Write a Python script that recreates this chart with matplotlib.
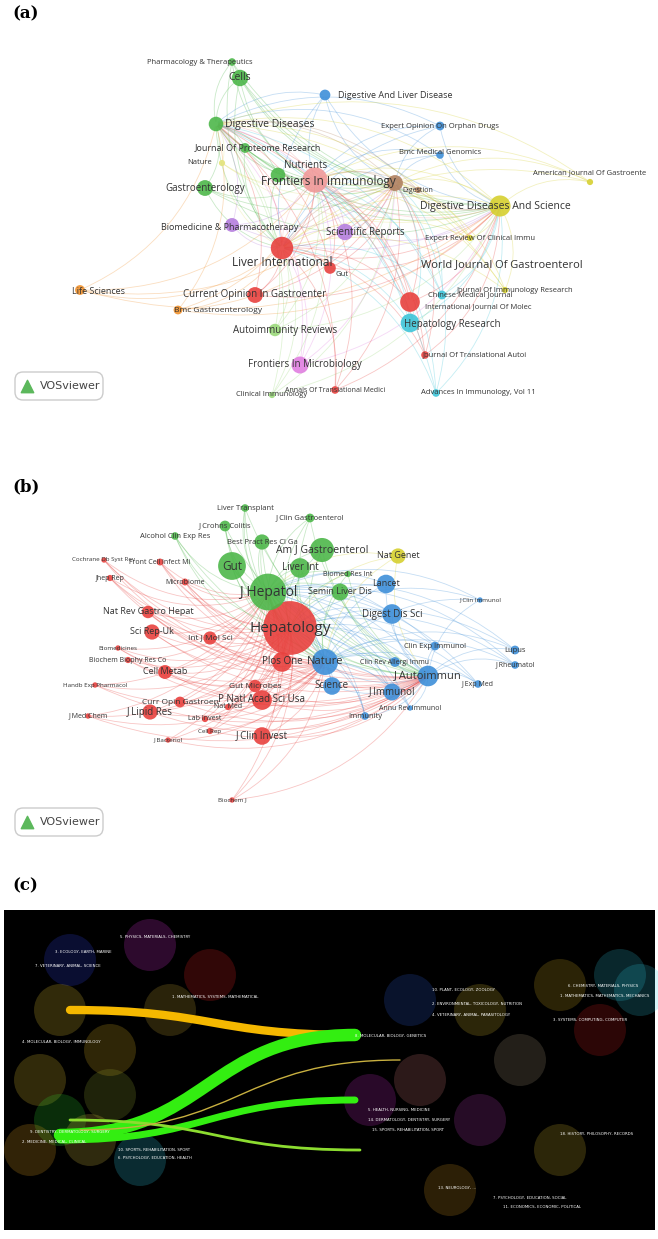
import matplotlib
matplotlib.use('Agg')
import matplotlib.pyplot as plt
from matplotlib.patches import FancyArrowPatch, FancyBboxPatch, Rectangle, PathPatch
from matplotlib.path import Path

W, H = 658, 1239

# ---- panel (a): journals ----
a_labels = ['Pharmacology & Therapeutics', 'Cells', 'Digestive Diseases', 'Journal Of Proteome Research',
            'Nature', 'Gastroenterology', 'Nutrients', 'Frontiers In Immunology',
            'Biomedicine & Pharmacotherapy', 'Liver International', 'Gut', 'Scientific Reports',
            'Current Opinion In Gastroenter', 'Life Sciences', 'Bmc Gastroenterology',
            'Autoimmunity Reviews', 'Frontiers In Microbiology', 'Clinical Immunology',
            'Annals Of Translational Medici', 'Digestive And Liver Disease',
            'Expert Opinion On Orphan Drugs', 'Bmc Medical Genomics', 'Digestion',
            'Digestive Diseases And Science', 'American Journal Of Gastroente',
            'World Journal Of Gastroenterol', 'Expert Review Of Clinical Immu',
            'Journal Of Immunology Research', 'Chinese Medical Journal',
            'International Journal Of Molec', 'Hepatology Research',
            'Journal Of Translational Autoi', 'Advances In Immunology, Vol 11']
a_x = [200, 240, 270, 258, 200, 205, 306, 328, 230, 282, 342, 365, 255, 98, 218, 285, 305, 272,
       335, 395, 440, 440, 418, 495, 590, 502, 480, 515, 470, 478, 452, 475, 478]
a_y = [62, 78, 124, 148, 163, 188, 166, 181, 228, 262, 274, 232, 295, 292, 310, 330, 365, 395,
       390, 95, 126, 152, 190, 206, 173, 265, 238, 290, 295, 307, 325, 355, 393]
a_node_x = [232, 240, 216, 245, 222, 205, 278, 315, 232, 282, 330, 345, 255, 80, 178, 275, 300, 272,
            335, 325, 440, 440, 418, 395, 590, 500, 470, 505, 442, 410, 410, 425, 436]
a_node_y = [62, 78, 124, 148, 163, 188, 175, 180, 225, 248, 268, 232, 295, 290, 310, 330, 365, 395,
            390, 95, 126, 155, 190, 183, 182, 206, 238, 290, 295, 302, 323, 355, 393]
a_size = [30, 140, 110, 50, 20, 130, 110, 330, 100, 260, 70, 140, 130, 50, 40, 80, 150, 20,
          30, 60, 40, 30, 20, 130, 20, 230, 20, 20, 40, 200, 180, 30, 30]
a_fs = [5.5, 7.5, 7.5, 6.5, 5.5, 7, 7, 8.5, 6.5, 8.5, 5.5, 7, 7, 6.5, 6, 7, 7, 5.5,
        5, 6.5, 5.5, 5.5, 5, 7.5, 5.5, 8, 5.5, 5.5, 5.5, 5.5, 7, 5.5, 5.5]
a_col = ['#4db74a', '#4db74a', '#4db74a', '#4db74a', '#e3e37a', '#4db74a', '#4db74a', '#f19a9a',
         '#b57ede', '#e8413e', '#e8413e', '#b57ede', '#e8413e', '#f0912d', '#f0912d',
         '#9ad97a', '#e07fe0', '#9ad97a', '#e8413e', '#3e8fd9', '#3e8fd9', '#3e8fd9',
         '#b08060', '#b08060', '#d6d02f', '#d6d02f', '#d6d02f', '#d6d02f', '#3ec5d9',
         '#e8413e', '#3ec5d9', '#e8413e', '#3ec5d9']
a_hubs = [7, 9, 25, 23, 2]

# ---- panel (b): co-cited journals ----
b_labels = ['Hepatology', 'J Hepatol', 'Gut', 'Am J Gastroenterol', 'Liver Int', 'Semin Liver Dis',
            'Lancet', 'Digest Dis Sci', 'Nature', 'Plos One', 'J Autoimmun', 'Science', 'J Immunol',
            'P Natl Acad Sci Usa', 'J Clin Invest', 'J Lipid Res', 'Cell Metab', 'Sci Rep-Uk',
            'Nat Rev Gastro Hepat', 'Int J Mol Sci', 'Nat Genet', 'Liver Transplant',
            'J Clin Gastroenterol', 'Alcohol Clin Exp Res', 'Best Pract Res Cl Ga', 'J Crohns Colitis',
            'Lupus', 'J Rheumatol', 'Clin Exp Immunol', 'Clin Rev Allergi Immu', 'Gut Microbes',
            'Curr Opin Gastroen', 'J Exp Med', 'Immunity', 'Biochem J', 'Jhep Rep',
            'Cochrane Db Syst Rev', 'Front Cell Infect Mi', 'Microbiome', 'Biomedicines',
            'Biochem Biophy Res Co', 'Handb Exp Pharmacol', 'J Med Chem', 'J Bacteriol', 'Cell Rep',
            'Lab Invest', 'Nat Med', 'Biomed Res Int', 'J Clin Immunol', 'Annu Rev Immunol']
b_x = [290, 268, 232, 322, 300, 340, 386, 392, 325, 282, 428, 332, 392, 262, 262, 150, 165, 152,
       148, 210, 398, 245, 310, 175, 262, 225, 515, 515, 435, 395, 255, 180, 478, 365, 232, 110,
       104, 160, 185, 118, 128, 95, 88, 168, 210, 205, 228, 348, 480, 410]
b_y = [628, 592, 566, 550, 568, 592, 584, 614, 662, 662, 676, 686, 692, 700, 736, 712, 672, 632,
       612, 638, 556, 508, 518, 536, 542, 526, 650, 665, 646, 662, 686, 702, 684, 716, 800, 578,
       560, 562, 582, 648, 660, 685, 716, 740, 731, 719, 707, 574, 600, 708]
b_size = [1500, 700, 400, 300, 200, 150, 180, 200, 350, 200, 220, 160, 150, 200, 160, 120, 100,
          120, 80, 90, 120, 30, 40, 30, 120, 60, 40, 30, 40, 50, 80, 60, 30, 30, 15, 20, 15, 25,
          25, 15, 20, 15, 15, 15, 20, 20, 20, 20, 15, 15]
b_fs = [11, 10, 8.5, 7.5, 7, 6.5, 6.5, 7, 8, 7, 8, 7, 7, 7, 7, 7, 6.5, 6.5, 6.5, 6, 6.5, 5.5,
        5.5, 5.5, 5.5, 5.5, 5.5, 5, 5.5, 5, 6, 6, 5, 5.5, 4.5, 5, 4.5, 5, 5, 4.5, 5, 4.5, 5,
        4.5, 4.5, 5, 5, 5, 4.5, 5]
b_col = ['#e8413e', '#4db74a', '#4db74a', '#4db74a', '#4db74a', '#4db74a', '#3e8fd9', '#3e8fd9',
         '#3e8fd9', '#e8413e', '#3e8fd9', '#3e8fd9', '#3e8fd9', '#e8413e', '#e8413e', '#e8413e',
         '#e8413e', '#e8413e', '#e8413e', '#e8413e', '#d6d02f', '#4db74a', '#4db74a', '#4db74a',
         '#4db74a', '#4db74a', '#3e8fd9', '#3e8fd9', '#3e8fd9', '#3e8fd9', '#e8413e', '#e8413e',
         '#3e8fd9', '#3e8fd9', '#e8413e', '#e8413e', '#e8413e', '#e8413e', '#e8413e', '#e8413e',
         '#e8413e', '#e8413e', '#e8413e', '#e8413e', '#e8413e', '#e8413e', '#e8413e', '#4db74a',
         '#3e8fd9', '#3e8fd9']
b_hubs = [0, 1, 8, 10]

# ---- panel (c): dual-map overlay ----
c_left_blobs_x = [70, 150, 210, 60, 110, 40, 60, 140, 30, 110, 90, 170]
c_left_blobs_y = [960, 945, 975, 1010, 1050, 1080, 1120, 1160, 1150, 1095, 1140, 1010]
c_left_blobs_c = ['#3040e0', '#d030d0', '#e02020', '#e0c030', '#d8b020', '#e0c030', '#30d030',
                  '#30c8e0', '#e0a020', '#90a030', '#d8c040', '#c0a030']
c_right_blobs_x = [410, 480, 560, 620, 600, 420, 480, 560, 370, 450, 520, 640]
c_right_blobs_y = [1000, 1010, 985, 975, 1030, 1080, 1120, 1150, 1100, 1190, 1060, 990]
c_right_blobs_c = ['#3060e0', '#e0c030', '#d8b020', '#30c8e0', '#e02020', '#e08080', '#c040c0',
                   '#e0c030', '#d030d0', '#e0a020', '#b0a080', '#30c8e0']
c_text = ['5. PHYSICS, MATERIALS, CHEMISTRY', '3. ECOLOGY, EARTH, MARINE', '7. VETERINARY, ANIMAL, SCIENCE',
          '1. MATHEMATICS, SYSTEMS, MATHEMATICAL', '4. MOLECULAR, BIOLOGY, IMMUNOLOGY',
          '9. DENTISTRY, DERMATOLOGY, SURGERY', '2. MEDICINE, MEDICAL, CLINICAL',
          '10. SPORTS, REHABILITATION, SPORT', '6. PSYCHOLOGY, EDUCATION, HEALTH',
          '6. CHEMISTRY, MATERIALS, PHYSICS', '10. PLANT, ECOLOGY, ZOOLOGY',
          '1. MATHEMATICS, MATHEMATICS, MECHANICS', '2. ENVIRONMENTAL, TOXICOLOGY, NUTRITION',
          '3. SYSTEMS, COMPUTING, COMPUTER', '4. VETERINARY, ANIMAL, PARASITOLOGY',
          '8. MOLECULAR, BIOLOGY, GENETICS', '5. HEALTH, NURSING, MEDICINE',
          '14. DERMATOLOGY, DENTISTRY, SURGERY', '15. SPORTS, REHABILITATION, SPORT',
          '18. HISTORY, PHILOSOPHY, RECORDS', '13. NEUROLOGY, ...', '7. PSYCHOLOGY, EDUCATION, SOCIAL',
          '11. ECONOMICS, ECONOMIC, POLITICAL']
c_text_x = [120, 55, 35, 172, 22, 30, 22, 118, 118, 568, 432, 560, 432, 553, 432, 355, 368, 368,
            372, 560, 438, 493, 503]
c_text_y = [937, 952, 966, 997, 1042, 1132, 1142, 1150, 1158, 986, 990, 996, 1004, 1020, 1015,
            1036, 1110, 1120, 1130, 1134, 1188, 1198, 1207]
band_x0 = [70, 60, 60, 70, 80]
band_y0 = [1010, 1135, 1140, 1120, 1130]
band_x1 = [355, 355, 355, 360, 400]
band_y1 = [1035, 1035, 1100, 1150, 1060]
band_w = [6, 9, 5, 2, 1]
band_c = ['#f5b800', '#33ee11', '#33ee11', '#8cdc30', '#c8b040']

fig = plt.figure(figsize=(W / 100, H / 100), dpi=100)
ax = fig.add_axes([0, 0, 1, 1])
ax.set_xlim(0, W)
ax.set_ylim(H, 0)
ax.axis('off')


def network(lx, ly, nx, ny, sizes, cols, labels, fss, hubs):
    for i in range(len(nx)):
        for h in hubs:
            if h == i:
                continue
            ax.add_patch(FancyArrowPatch((nx[i], ny[i]), (nx[h], ny[h]), arrowstyle='-',
                                         connectionstyle='arc3,rad=0.25', color=cols[i],
                                         lw=0.6, alpha=0.3, zorder=1))
    ax.scatter(nx, ny, s=sizes, c=cols, alpha=0.9, zorder=2, edgecolors='none')
    for i, lab in enumerate(labels):
        ax.text(lx[i], ly[i], lab, fontsize=fss[i], color='#333333', ha='center', va='center',
                zorder=3, family='Open Sans')


def logo(y):
    ax.add_patch(FancyBboxPatch((15, y), 88, 28, boxstyle='round,pad=0,rounding_size=8',
                                fc='white', ec='#cccccc', lw=1, zorder=3))
    ax.scatter([27], [y + 14], s=80, c='#5cb85c', marker='^', zorder=4)
    ax.text(40, y + 14, 'VOSviewer', fontsize=8, color='#444444', va='center', zorder=4)


ax.text(12, 14, '(a)', fontsize=12, fontweight='bold', family='DejaVu Serif', va='center')
network(a_x, a_y, a_node_x, a_node_y, a_size, a_col, a_labels, a_fs, a_hubs)
logo(372)

ax.text(12, 487, '(b)', fontsize=12, fontweight='bold', family='DejaVu Serif', va='center')
network(b_x, b_y, b_x, b_y, b_size, b_col, b_labels, b_fs, b_hubs)
logo(808)

ax.text(12, 886, '(c)', fontsize=12, fontweight='bold', family='DejaVu Serif', va='center')
ax.add_patch(Rectangle((4, 910), 651, 320, fc='black', zorder=1))
ax.scatter(c_left_blobs_x, c_left_blobs_y, s=1400, c=c_left_blobs_c, alpha=0.22, zorder=2,
           edgecolors='none')
ax.scatter(c_right_blobs_x, c_right_blobs_y, s=1400, c=c_right_blobs_c, alpha=0.2, zorder=2,
           edgecolors='none')
for x0, y0, x1, y1, w, c in zip(band_x0, band_y0, band_x1, band_y1, band_w, band_c):
    mx = (x0 + x1) / 2
    p = Path([(x0, y0), (mx, y0), (mx, y1), (x1, y1)],
             [Path.MOVETO, Path.CURVE4, Path.CURVE4, Path.CURVE4])
    ax.add_patch(PathPatch(p, fc='none', ec=c, lw=w, zorder=3, capstyle='round'))
for t, x, y in zip(c_text, c_text_x, c_text_y):
    ax.text(x, y, t, fontsize=2.8, color='#ffffff', va='center', zorder=4)

fig.savefig('out.png', dpi=100, facecolor='white')
